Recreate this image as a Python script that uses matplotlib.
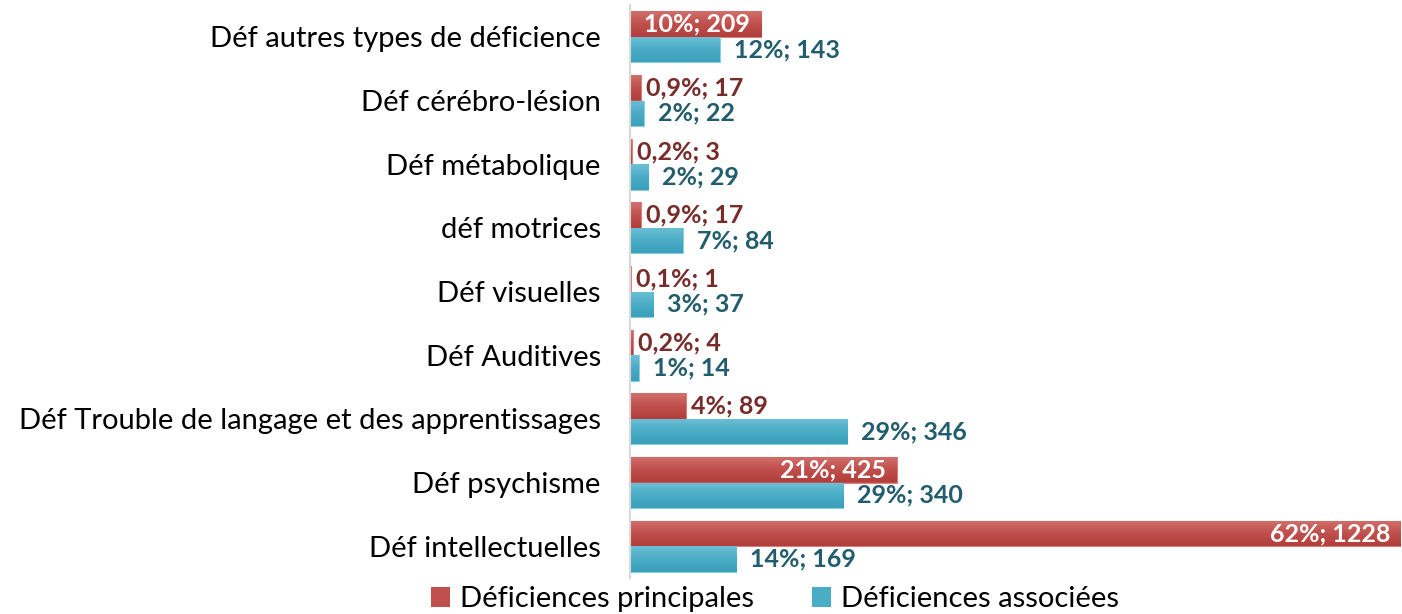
import matplotlib
matplotlib.use("Agg")
import matplotlib.pyplot as plt
import numpy as np
from matplotlib.patches import Patch
from matplotlib.colors import LinearSegmentedColormap

categories = ["Déf autres types de déficience", "Déf cérébro-lésion", "Déf métabolique",
              "déf motrices", "Déf visuelles", "Déf Auditives",
              "Déf Trouble de langage et des apprentissages", "Déf psychisme",
              "Déf intellectuelles"]
principal_n = [209, 17, 3, 17, 1, 4, 89, 425, 1228]
principal_pct = ["10%", "0,9%", "0,2%", "0,9%", "0,1%", "0,2%", "4%", "21%", "62%"]
associe_n = [143, 22, 29, 84, 37, 14, 346, 340, 169]
associe_pct = ["12%", "2%", "2%", "7%", "3%", "1%", "29%", "29%", "14%"]
series_names = ["Déficiences principales", "Déficiences associées"]

RED = "#C0504D"
TEAL = "#4BACC6"
RED_TXT = "#772C2A"
TEAL_TXT = "#215D6C"

plt.rcParams['font.family'] = ['Lato', 'DejaVu Sans']

W, H = 1402, 614
fig = plt.figure(figsize=(W / 100, H / 100), dpi=100)
ax = fig.add_axes([630 / W, 1 - 578 / H, (1401 - 630) / W, (578 - 5) / H])

n = len(categories)
ypos = np.arange(n)
bh = 0.40
bars_r = ax.barh(ypos - bh / 2, principal_n, height=bh, color=RED,
                 edgecolor="#D9807E", linewidth=0.8, zorder=2)
bars_t = ax.barh(ypos + bh / 2, associe_n, height=bh, color=TEAL,
                 edgecolor="#8FCEDF", linewidth=0.8, zorder=2)

cm_r = LinearSegmentedColormap.from_list("r", ["#D26F6C", "#C0504D", "#B23E3B"])
cm_t = LinearSegmentedColormap.from_list("t", ["#6DBFD6", "#4BACC6", "#3A9FBA"])
grad = np.linspace(0, 1, 64).reshape(-1, 1)
for bars, cm in ((bars_r, cm_r), (bars_t, cm_t)):
    for p in bars:
        x0, y0 = p.get_x(), p.get_y()
        w, h = p.get_width(), p.get_height()
        im = ax.imshow(grad, extent=[x0, x0 + w, y0 + h, y0], aspect="auto",
                       cmap=cm, zorder=2.5, interpolation="bilinear")
        im.set_clip_path(p)

xmax = max(principal_n)
ax.set_xlim(0, xmax)
ax.set_ylim(n - 0.5, -0.5)
ax.set_yticks(ypos)
ax.set_yticklabels(categories, fontsize=21)
ax.tick_params(axis='y', length=0, pad=21)
ax.set_xticks([])
for s in ["top", "right", "bottom"]:
    ax.spines[s].set_visible(False)
ax.spines["left"].set_color("#D9D9D9")
ax.spines["left"].set_linewidth(1.5)

for i, (v, p) in enumerate(zip(principal_n, principal_pct)):
    txt = f"{p}; {v}"
    y = i - bh / 2
    if v > 150:
        ax.annotate(txt, (v, y), xytext=(-8, 0), textcoords="offset points",
                    ha="right", va="center", color="white", fontsize=18,
                    fontweight="bold", zorder=5)
    else:
        ax.annotate(txt, (v, y), xytext=(4, 0), textcoords="offset points",
                    ha="left", va="center", color=RED_TXT, fontsize=18,
                    fontweight="bold", zorder=5)

for i, (v, p) in enumerate(zip(associe_n, associe_pct)):
    txt = f"{p}; {v}"
    y = i + bh / 2
    ax.annotate(txt, (v, y), xytext=(10, 0), textcoords="offset points",
                ha="left", va="center", color=TEAL_TXT, fontsize=18,
                fontweight="bold", zorder=5)

handles = [Patch(facecolor=RED, edgecolor="none"), Patch(facecolor=TEAL, edgecolor="none")]
fig.legend(handles, series_names, loc="center", bbox_to_anchor=(775 / W, 1 - 599 / H),
           ncol=2, frameon=False, fontsize=21, handlelength=0.65, handleheight=0.7,
           handletextpad=0.35, columnspacing=2.0, borderpad=0)

fig.savefig("out.png", dpi=100)
